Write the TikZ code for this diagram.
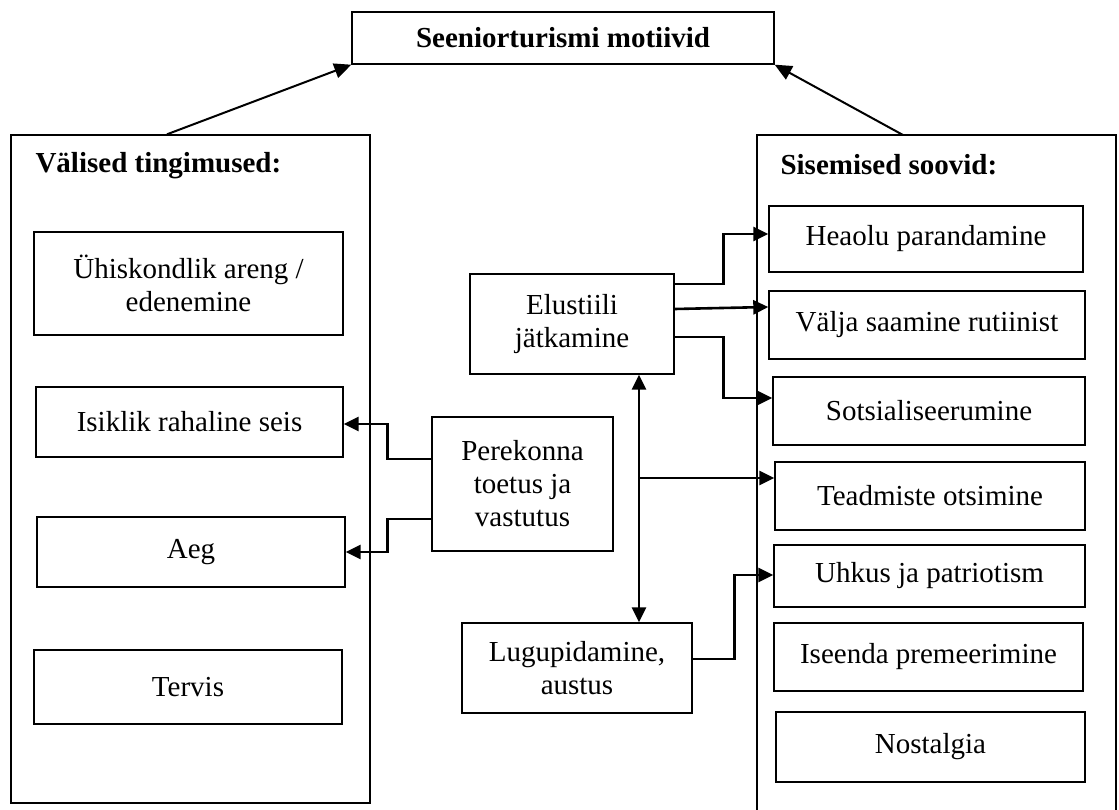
\documentclass[tikz,border=0pt]{standalone}
\usepackage{fontspec}
\setmainfont{Liberation Serif}
\usetikzlibrary{arrows.meta}

\begin{document}
\begin{tikzpicture}[x=1pt,y=-1pt,line join=miter,
  font=\fontsize{29}{33}\selectfont,
  kast/.style={draw,line width=1.4pt,align=center,inner sep=0pt},
  nool/.style={line width=2.6pt,-{Triangle[length=15pt,width=14pt]}},
  kahepoolne/.style={line width=2.6pt,{Triangle[length=15pt,width=14pt]}-{Triangle[length=15pt,width=14pt]}}]
  \useasboundingbox (0,0) rectangle (1119,810);
  % pealkiri
  \node[kast,font=\fontsize{29}{33}\selectfont\bfseries,minimum width=422pt,minimum height=52pt] (motiivid) at (563,38) {Seeniorturismi motiivid};
  % valised tingimused
  \node[draw,line width=1.4pt,minimum width=359pt,minimum height=668pt,inner sep=0pt] (valised) at (190.5,469) {};
  \node[anchor=base west,font=\fontsize{29}{33}\selectfont\bfseries] (valised-pealkiri) at (32,173) {Välised tingimused:};
  \node[kast,minimum width=309pt,minimum height=103pt] (areng) at (188.5,283.5) {Ühiskondlik areng /\\edenemine};
  \node[kast,minimum width=307pt,minimum height=70pt] (raha) at (189.5,422) {Isiklik rahaline seis};
  \node[kast,minimum width=308pt,minimum height=70pt] (aeg) at (191,552) {Aeg};
  \node[kast,minimum width=308pt,minimum height=74pt] (tervis) at (188,687) {Tervis};
  % sisemised soovid
  \draw[line width=1.4pt] (757,810) |- (1116,135) -- (1116,810);
  \coordinate (sisemised) at (903,135);
  \node[anchor=base west,font=\fontsize{29}{33}\selectfont\bfseries] (sisemised-pealkiri) at (777,175) {Sisemised soovid:};
  \node[kast,minimum width=314pt,minimum height=66pt] (heaolu) at (926,239) {Heaolu parandamine};
  \node[kast,minimum width=316pt,minimum height=68pt] (rutiin) at (927,325) {Välja saamine rutiinist};
  \node[kast,minimum width=312pt,minimum height=68pt] (sotsiaal) at (929,411) {Sotsialiseerumine};
  \node[kast,minimum width=310pt,minimum height=68pt] (teadmised) at (930,496) {Teadmiste otsimine};
  \node[kast,minimum width=311pt,minimum height=62pt] (uhkus) at (929.5,576) {Uhkus ja patriotism};
  \node[kast,minimum width=309pt,minimum height=68pt] (premeerimine) at (928.5,657) {Iseenda premeerimine};
  \node[kast,minimum width=309pt,minimum height=70pt] (nostalgia) at (930.5,747) {Nostalgia};
  % keskmised
  \node[kast,minimum width=204pt,minimum height=100pt] (elustiil) at (572,324) {Elustiili\\jätkamine};
  \node[kast,minimum width=181pt,minimum height=134pt] (perekond) at (522.5,484) {Perekonna\\toetus ja\\vastutus};
  \node[kast,minimum width=230pt,minimum height=90pt] (lugupidamine) at (577,668) {Lugupidamine,\\austus};
  % nooled ules
  \draw[line width=2pt,-{Triangle[length=17pt,width=15pt]}] ([xshift=-23.5pt]valised.north) -- (motiivid.south west);
  \draw[line width=2pt,-{Triangle[length=17pt,width=15pt]}] (sisemised) -- (motiivid.south east);
  % elustiil
  \draw[nool] ([yshift=40pt]elustiil.east) -- ++(49,0) |- ([yshift=5pt]heaolu.west);
  \draw[nool] ([yshift=15pt]elustiil.east) -- ([yshift=18pt]rutiin.west);
  \draw[nool] ([yshift=-13pt]elustiil.east) -- ++(49,0) |- ([yshift=13pt]sotsiaal.west);
  \coordinate (elu-all) at ([xshift=67pt]elustiil.south);
  \coordinate (lugu-yles) at ([xshift=62pt]lugupidamine.north);
  \coordinate (teadm-vasak) at ([yshift=18pt]teadmised.west);
  \draw[kahepoolne] (elu-all) -- (lugu-yles);
  \draw[nool] (elu-all |- teadm-vasak) -- (teadm-vasak);
  \draw[nool] ([yshift=9pt]lugupidamine.east) -- ++(42,0) |- ([yshift=1pt]uhkus.west);
  % perekond
  \draw[nool] ([yshift=25pt]perekond.west) -- ++(-44,0) |- ([yshift=-2pt]raha.east);
  \draw[nool] ([yshift=-35pt]perekond.west) -- ++(-44,0) |- (aeg.east);
\end{tikzpicture}
\end{document}
